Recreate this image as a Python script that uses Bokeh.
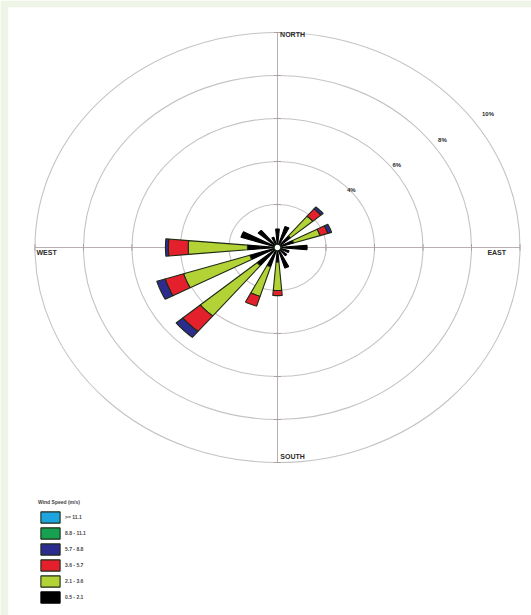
import numpy as np
from bokeh.plotting import figure
from bokeh.models import Range1d, Legend, LegendItem, ColumnDataSource
from bokeh.embed import file_html
from bokeh.resources import INLINE
from bokeh.core.properties import value

# ---------------- data ----------------
directions = [0, 22.5, 45, 67.5, 90, 112.5, 135, 157.5,
              180, 202.5, 225, 247.5, 270, 292.5, 315, 337.5]
dir_names = ["N", "NNE", "NE", "ENE", "E", "ESE", "SE", "SSE",
             "S", "SSW", "SW", "WSW", "W", "WNW", "NW", "NNW"]

speed_bins = ["0.5 - 2.1", "2.1 - 3.6", "3.6 - 5.7", "5.7 - 8.8", "8.8 - 11.1", ">= 11.1"]
bin_colors = ["#000000", "#b2d236", "#e4202c", "#2c2c8e", "#17a04f", "#1ea5e0"]

# frequency (%) of each speed class per direction (N ... NNW)
freq_05_21 = [0.86, 1.02, 0.70, 0.70, 1.22, 0.50, 0.50, 1.00, 0.68, 0.94, 1.10, 1.20, 1.24, 1.58, 1.04, 0.50]
freq_21_36 = [0.00, 0.00, 1.20, 1.14, 0.00, 0.00, 0.00, 0.00, 1.32, 1.44, 3.06, 2.86, 2.44, 0.00, 0.00, 0.00]
freq_36_57 = [0.00, 0.00, 0.44, 0.34, 0.00, 0.00, 0.00, 0.00, 0.24, 0.48, 0.94, 0.80, 0.82, 0.00, 0.00, 0.00]
freq_57_88 = [0.00, 0.00, 0.12, 0.16, 0.00, 0.00, 0.00, 0.00, 0.00, 0.00, 0.36, 0.36, 0.12, 0.00, 0.00, 0.00]
freq_88_111 = [0.0] * 16
freq_111 = [0.0] * 16

ring_values = [2, 4, 6, 8, 10]          # percent
ring_labels = ["4%", "6%", "8%", "10%"]  # labelled rings (2..5)
compass_labels = ["NORTH", "EAST", "SOUTH", "WEST"]

legend_title = "Wind Speed (m/s)"

# ---------------- figure ----------------
RING_STEP = 2.0  # percent per ring unit

p = figure(width=531, height=615, output_backend="svg", toolbar_location=None,
           x_range=Range1d(-5.546, 5.237), y_range=Range1d(-8.558, 5.581),
           x_axis_location=None, y_axis_location=None,
           min_border=0, min_border_left=8, min_border_right=0,
           min_border_top=7, min_border_bottom=0)
p.grid.visible = False
p.outline_line_color = None
p.background_fill_color = "white"
p.border_fill_color = "#eef4e6"

# rings
rr = np.array(ring_values) / RING_STEP
p.ellipse(x=0, y=0, width=2 * rr, height=2 * rr, fill_color=None,
          line_color="#c4c4c4", line_width=1.1)
# axes
R = rr.max()
p.segment(x0=[-R, 0], y0=[0, -R], x1=[R, 0], y1=[0, R],
          line_color="#b9b0b0", line_width=1)
# small tick marks where the rings cross the axes
tk = 0.07
ring_all = np.concatenate([rr, -rr])
p.segment(x0=-tk * 1.0, x1=tk * 1.0, y0=ring_all, y1=ring_all,
          line_color="#aaa0a0", line_width=1)
p.segment(x0=ring_all, x1=ring_all, y0=-tk * 1.1, y1=tk * 1.1,
          line_color="#aaa0a0", line_width=1)

# petals
all_freq = [freq_05_21, freq_21_36, freq_36_57, freq_57_88, freq_88_111, freq_111]
half_w = np.deg2rad(5.0)
cum = np.zeros(16)
renderers = []
for k, fr in enumerate(all_freq):
    fr = np.array(fr) / RING_STEP
    xs, ys = [], []
    for i, d in enumerate(directions):
        if fr[i] <= 0:
            continue
        r0, r1 = cum[i], cum[i] + fr[i]
        th = np.deg2rad(d)
        a = np.linspace(th - half_w, th + half_w, 9)
        px = np.concatenate([r1 * np.sin(a), r0 * np.sin(a[::-1])])
        py = np.concatenate([r1 * np.cos(a), r0 * np.cos(a[::-1])])
        xs.append(list(px))
        ys.append(list(py))
    if not xs:
        # class with no occurrences: zero-size patch so the legend still shows its colour
        xs, ys = [[0.0, 0.0, 0.0]], [[0.0, 0.0, 0.0]]
    cum = cum + fr
    src = ColumnDataSource(dict(xs=xs, ys=ys))
    lc = "#1e2a14" if k != 0 else "#000000"
    r = p.patches("xs", "ys", source=src, fill_color=bin_colors[k],
                  line_color=lc, line_width=1.1)
    renderers.append(r)

# calm circle
p.ellipse(x=0, y=0, width=0.15, height=0.17, fill_color="white",
          line_color="#102010", line_width=1.8)

# compass labels
p.text(x=[0.31, 4.52, 0.31, -4.76], y=[4.95, -0.12, -4.86, -0.12], text=compass_labels,
       text_font=value("Liberation Sans"), text_font_size="7px", text_font_style="bold",
       text_color="#2a2a2a", text_align="center", text_baseline="middle")

# ring labels, placed just outside each ring toward the north-east
lr = rr[1:]
p.text(x=0.94 * lr - 0.36, y=0.59 * lr + 0.15, text=ring_labels,
       text_font=value("Liberation Sans"), text_font_size="6px", text_font_style="bold",
       text_color="#2a2a2a", text_align="center", text_baseline="middle")

# legend
items = [LegendItem(label=speed_bins[k], renderers=[renderers[k]]) for k in range(5, -1, -1)]
legend = Legend(items=items, location=(30, 11), title=legend_title,
                title_text_font_size="5px", title_text_font_style="bold",
                title_text_font="Liberation Sans",
                label_text_font_size="5px", label_text_font="Liberation Sans",
                label_text_font_style="bold",
                glyph_width=24, glyph_height=14, spacing=2, padding=0, margin=0,
                label_standoff=3, title_standoff=5, label_height=14,
                border_line_color=None, background_fill_alpha=0)
p.add_layout(legend, "center")

open("out.html", "w").write(file_html(p, INLINE))
